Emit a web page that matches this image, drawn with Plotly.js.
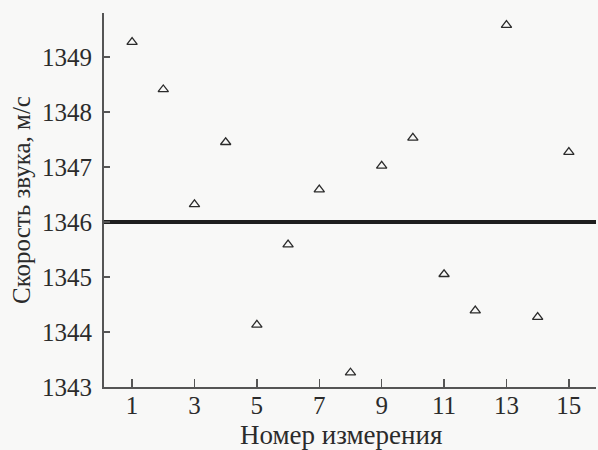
<!DOCTYPE html>
<html>
<head>
<meta charset="utf-8">
<script src="https://cdn.plot.ly/plotly-3.0.1.min.js"></script>
<style>html,body{margin:0;padding:0;background:#f8f8f7;}#chart{width:598px;height:450px;}</style>
</head>
<body>
<div id="chart"></div>
<script>
const measurementNumbers = [1,2,3,4,5,6,7,8,9,10,11,12,13,14,15];
const soundSpeed = [1349.27,1348.41,1346.32,1347.45,1344.13,1345.59,1346.59,1343.26,1347.02,1347.53,1345.05,1344.39,1349.58,1344.27,1347.27];
const meanSpeed = 1346;
const xTicks = [1,3,5,7,9,11,13,15];
const yTicks = [1343,1344,1345,1346,1347,1348,1349];
const xRange = [0.1, 15.87];
const yRange = [1343, 1349.8];
const xTitle = 'Номер измерения';
const yTitle = 'Скорость звука, м/с';

const fontFam = '"Liberation Serif","DejaVu Serif",serif';
const ink = '#2b2b2b';

const traces = [
  {
    x: xRange, y: [meanSpeed, meanSpeed],
    mode: 'lines', line: {color: '#1e1e1e', width: 4},
    hoverinfo: 'skip', showlegend: false, cliponaxis: false
  },
  {
    x: measurementNumbers, y: soundSpeed,
    mode: 'markers',
    marker: {symbol: 'triangle-up-open', size: 9, color: ink, line: {width: 1.3, color: ink}},
    showlegend: false, cliponaxis: false
  }
];

const layout = {
  width: 598, height: 450,
  paper_bgcolor: '#f8f8f7', plot_bgcolor: '#f8f8f7',
  margin: {l: 104, r: 2, t: 13, b: 63},
  font: {family: fontFam, color: ink, size: 25},
  showlegend: false,
  xaxis: {
    range: xRange, tickvals: xTicks, ticktext: xTicks.map(String),
    ticks: 'inside', ticklen: 8, tickwidth: 1.5, tickcolor: '#555',
    showline: true, linecolor: '#555', linewidth: 2,
    showgrid: false, zeroline: false, mirror: false,
    ticklabelstandoff: -5,
    tickfont: {family: fontFam, size: 25, color: ink},
    automargin: false, fixedrange: true
  },
  yaxis: {
    range: yRange, tickvals: yTicks, ticktext: yTicks.map(String),
    ticks: 'inside', ticklen: 6, tickwidth: 1.5, tickcolor: '#555',
    showline: true, linecolor: '#555', linewidth: 2,
    showgrid: false, zeroline: false, mirror: false,
    ticklabelstandoff: 5,
    tickfont: {family: fontFam, size: 25, color: ink},
    title: {text: yTitle, font: {family: fontFam, size: 25, color: ink}, standoff: 4},
    automargin: false, fixedrange: true
  },
  annotations: [
    {
      text: xTitle, xref: 'paper', yref: 'paper',
      x: 0.4817, y: -0.128, xanchor: 'center', yanchor: 'middle',
      showarrow: false, font: {family: fontFam, size: 27, color: ink}
    }
  ]
};

Plotly.newPlot('chart', traces, layout, {displayModeBar: false, staticPlot: true});
</script>
</body>
</html>
